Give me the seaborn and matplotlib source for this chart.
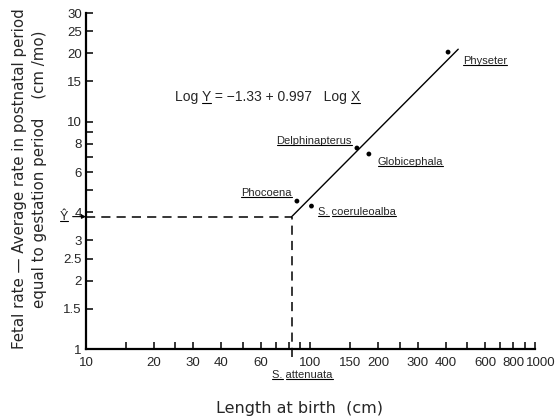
import numpy as np
import pandas as pd
import seaborn as sns
import matplotlib.pyplot as plt
import matplotlib.transforms as mtransforms
from matplotlib.lines import Line2D
from matplotlib.ticker import FixedLocator, NullFormatter

# Datos
species = ["Physeter", "Delphinapterus", "Globicephala", "Phocoena", "S. coeruleoalba"]
length_cm = [410, 161, 182, 87, 101]
fetal_rate = [20.2, 7.65, 7.2, 4.47, 4.25]

# recta de regresion (extremos)
line_x = [82.5, 455]
line_y = [3.82, 20.8]

# S. attenuata (punto de lectura)
att_x = 82.5
att_y = 3.82

x_major = [10, 20, 30, 40, 60, 100, 150, 200, 300, 400, 600, 800, 1000]
x_minor = [15, 25, 50, 70, 80, 90, 250, 500, 700, 900]
y_major = [1, 1.5, 2, 2.5, 3, 4, 6, 8, 10, 15, 20, 25, 30]
y_minor = [5, 7, 9]

sns.set_style("ticks")
plt.rcParams['font.family'] = ['Liberation Sans', 'DejaVu Sans']

fig = plt.figure(figsize=(5.56, 4.2), dpi=100)
ax = fig.add_axes([0.1547, 0.169, 0.8075, 0.8])

df = pd.DataFrame({"species": species, "x": length_cm, "y": fetal_rate})
sns.scatterplot(data=df, x="x", y="y", ax=ax, color="black", s=12, edgecolor="none", zorder=3)
sns.lineplot(x=line_x, y=line_y, ax=ax, color="black", linewidth=1.0)
ax.set_xlabel("")
ax.set_ylabel("")

ax.set_xscale("log")
ax.set_yscale("log")
ax.set_xlim(10, 1000)
ax.set_ylim(1, 30)

ax.xaxis.set_major_locator(FixedLocator(x_major))
ax.xaxis.set_minor_locator(FixedLocator(x_minor))
ax.yaxis.set_major_locator(FixedLocator(y_major))
ax.yaxis.set_minor_locator(FixedLocator(y_minor))
ax.set_xticklabels([str(v) for v in x_major])
ax.set_yticklabels([f"{v:g}" for v in y_major])
ax.xaxis.set_minor_formatter(NullFormatter())
ax.yaxis.set_minor_formatter(NullFormatter())

ax.tick_params(which="both", direction="in", length=5, width=1.1, labelsize=9.5, color="black")
ax.tick_params(axis="x", pad=6)
ax.tick_params(axis="y", pad=3)
sns.despine(ax=ax)
for s in ["left", "bottom"]:
    ax.spines[s].set_linewidth(1.6)
    ax.spines[s].set_color("black")

# el 1000 va algo desplazado a la derecha
last = ax.get_xticklabels()[-1]
last.set_transform(last.get_transform() + mtransforms.ScaledTranslation(6 / 100, 0, fig.dpi_scale_trans))

# lineas discontinuas
ax.plot([10, att_x], [att_y, att_y], color="black", lw=1.1, ls=(0, (6, 4)))
ax.plot([att_x, att_x], [0.92, att_y], color="black", lw=1.1, ls=(0, (6, 4)), clip_on=False)

# etiquetas de especies
offsets = [(10.8, -6.5, "left"), (-3.6, 5, "right"), (6.5, -5.8, "left"),
           (-3.6, 5.8, "right"), (5, -4.3, "left")]

to_underline = []
for name, xv, yv, (dx, dy, ha) in zip(species, length_cm, fetal_rate, offsets):
    t = ax.annotate(name, (xv, yv), xytext=(dx, dy), textcoords="offset points",
                    ha=ha, va="center", fontsize=8)
    to_underline.append(t)

t = ax.annotate("S. attenuata", (att_x, 1), xytext=(-14, -19), textcoords="offset points",
                ha="left", va="center", fontsize=8, annotation_clip=False)
to_underline.append(t)

# Y estimado
t = ax.annotate("\u0176", (10, att_y), xytext=(-16, 0), textcoords="offset points",
                ha="center", va="center", fontsize=9, annotation_clip=False,
                arrowprops=dict(arrowstyle="-|>", color="black", lw=0.8, mutation_scale=6,
                                shrinkA=1, shrinkB=0))
to_underline.append(t)

# ecuacion
e1 = ax.text(24.9, 12.3, "Log ", ha="left", va="baseline", fontsize=10)
e2 = ax.annotate("Y", xy=(1, 0), xycoords=e1, ha="left", va="bottom", fontsize=10)
e3 = ax.annotate(" = \u22121.33 + 0.997   Log ", xy=(1, 0), xycoords=e2, ha="left", va="bottom", fontsize=10)
e4 = ax.annotate("X", xy=(1, 0), xycoords=e3, ha="left", va="bottom", fontsize=10)
to_underline += [e2, e4]

# titulos de los ejes
fig.text(300 / 556, 1 - 408 / 420, "Length at birth  (cm)", ha="center", va="center",
         fontsize=11.5, family="DejaVu Sans")
fig.text(20 / 556, 1 - 179 / 420, "Fetal rate \u2014 Average rate in postnatal period",
         rotation=90, ha="center", va="center", fontsize=10.8, family="DejaVu Sans")
fig.text(40 / 556, 1 - 169 / 420, "equal to gestation period    (cm /mo)",
         rotation=90, ha="center", va="center", fontsize=10.8, family="DejaVu Sans")

# subrayados (palabra por palabra)
fig.canvas.draw()
renderer = fig.canvas.get_renderer()
inv = fig.transFigure.inverted()

def text_width(s, like):
    tmp = fig.text(0, 0, s, fontsize=like.get_fontsize(), fontfamily=like.get_fontfamily())
    w = tmp.get_window_extent(renderer).width
    tmp.remove()
    return w

for t in to_underline:
    bb = t.get_window_extent(renderer)
    s = t.get_text()
    y = bb.y0 + 1.5
    start = 0
    for word in s.split(" "):
        if word:
            x0 = bb.x0 + text_width(s[:start], t) if start else bb.x0
            x1 = bb.x0 + text_width(s[:start + len(word)], t)
            (fx0, fy), (fx1, _) = inv.transform([(x0, y), (x1, y)])
            fig.add_artist(Line2D([fx0, fx1], [fy, fy], transform=fig.transFigure, color="black", lw=0.8))
        start += len(word) + 1

fig.savefig("out.png", dpi=100)
